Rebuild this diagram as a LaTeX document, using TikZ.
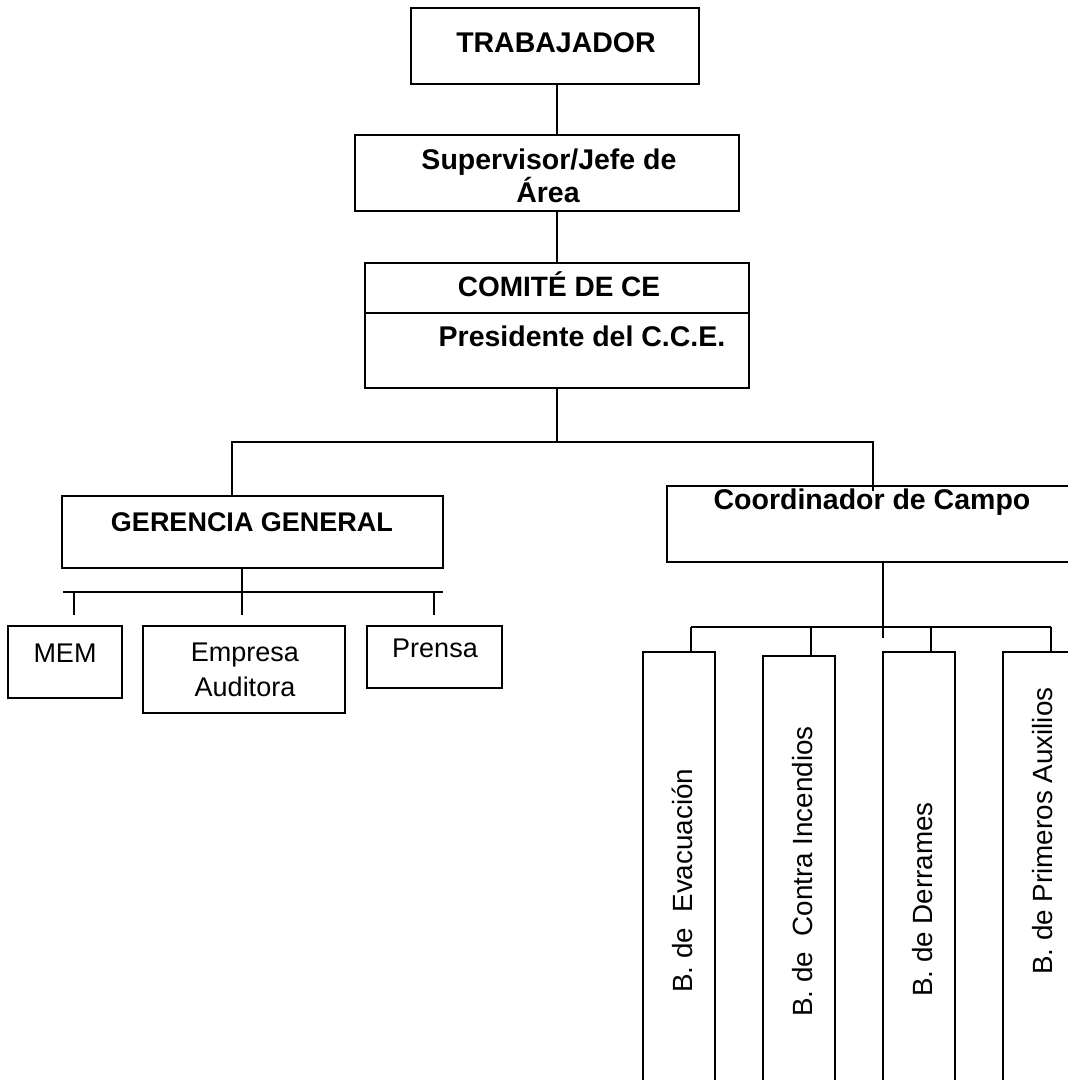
\documentclass[tikz,border=0pt]{standalone}
\usepackage{fontspec}
\setmainfont{Liberation Sans}
\usetikzlibrary{calc}
\tikzset{
  box/.style={draw, rectangle, line width=2pt, inner sep=0pt},
  conn/.style={line width=2pt},
  bt/.style={inner sep=0pt, anchor=base, font=\bfseries\fontsize{28.5}{34}\selectfont},
  rt/.style={inner sep=0pt, anchor=base, font=\fontsize{27}{32}\selectfont},
  vt/.style={inner sep=0pt, anchor=base west, rotate=90, font=\fontsize{27.8}{32}\selectfont}
}
\begin{document}
\begin{tikzpicture}[x=1pt,y=1pt]
\useasboundingbox (0,0) rectangle (1068,1080);
\clip (0,0) rectangle (1068,1080);
\fill[white] (0,0) rectangle (1068,1080);
% boxes
\node[box, minimum width=288pt, minimum height=76pt] (trab) at (555,1034) {};
\node[box, minimum width=384pt, minimum height=76pt] (sup) at (547,907) {};
\node[box, minimum width=384pt, minimum height=125pt] (com) at (557,754.5) {};
\coordinate (divl) at (365,767);
\coordinate (divr) at (749,767);
\draw[conn] (divl) -- (divr);
\node[box, minimum width=381pt, minimum height=72pt] (ger) at (252.5,548) {};
\node[box, minimum width=114pt, minimum height=72pt] (mem) at (65,418) {};
\node[box, minimum width=202pt, minimum height=87pt] (emp) at (244,410.5) {};
\node[box, minimum width=135pt, minimum height=62pt] (pre) at (434.5,423) {};
\node[box, minimum width=433pt, minimum height=76pt] (coo) at (883.5,556) {};
\node[box, minimum width=72pt, minimum height=458pt] (b1) at (679,199) {};
\node[box, minimum width=72pt, minimum height=454pt] (b2) at (799,197) {};
\node[box, minimum width=72pt, minimum height=458pt] (b3) at (919,199) {};
\node[box, minimum width=72pt, minimum height=458pt] (b4) at (1039,199) {};
% texts
\node[bt] (ttrab) at (556,1027) {TRABAJADOR};
\node[bt] (tsup1) at (549,910) {Supervisor/Jefe de};
\node[bt] (tsup2) at (548,877) {Área};
\node[bt, font=\bfseries\fontsize{28}{34}\selectfont] (tcom) at (559,783) {COMITÉ DE CE};
\node[bt] (tpres) at (582,733) {Presidente del C.C.E.};
\node[bt, font=\bfseries\fontsize{27}{34}\selectfont] (tger) at (252,548) {GERENCIA GENERAL};
\node[bt] (tcoo) at (872,570) {Coordinador de Campo};
\node[rt] (tmem) at (65,417) {MEM};
\node[rt] (temp1) at (245,418) {Empresa};
\node[rt] (temp2) at (245,383) {Auditora};
\node[rt] (tpre) at (435,422) {Prensa};
\node[vt] (tb1) at (692,87) {B. de\ \ Evacuación};
\node[vt] (tb2) at (812,63) {B. de\ \ Contra Incendios};
\node[vt] (tb3) at (932,83) {B. de Derrames};
\node[vt] (tb4) at (1052,105) {B. de Primeros Auxilios};
% connectors
\coordinate (spine) at (557,0);
\draw[conn] (trab.south -| spine) -- (sup.north -| spine);
\draw[conn] (sup.south -| spine) -- (com.north -| spine);
\coordinate (j1l) at (232,637.5);
\coordinate (j1r) at (873,637.5);
\draw[conn] (com.south -| spine) -- (j1l -| spine);
\draw[conn] (ger.north -| j1l) -- (j1l) -- (j1r) -- ($(coo.north -| j1r)+(0,-6)$);
% gerencia bus
\coordinate (g0) at (242,488);
\coordinate (gbl) at (63,488);
\coordinate (gbr) at (443,488);
\draw[conn] (ger.south -| g0) -- (g0);
\draw[conn] (gbl) -- (gbr);
\coordinate (t1) at (74,465);
\coordinate (t2) at (242,465);
\coordinate (t3) at (434,465);
\draw[conn] (t1 |- gbl) -- (t1);
\draw[conn] (t2 |- gbl) -- (t2);
\draw[conn] (t3 |- gbl) -- (t3);
% coordinador bus
\coordinate (c0) at (883,442);
\coordinate (cbl) at (691,453);
\coordinate (cbr) at (1051,453);
\draw[conn] (coo.south -| c0) -- (c0);
\draw[conn] (cbl) -- (cbr);
\coordinate (k2) at (811,453);
\coordinate (k3) at (931,453);
\draw[conn] (cbl) -- (b1.north -| cbl);
\draw[conn] (k2) -- (b2.north -| k2);
\draw[conn] (k3) -- (b3.north -| k3);
\draw[conn] (cbr) -- (b4.north -| cbr);
\end{tikzpicture}
\end{document}
